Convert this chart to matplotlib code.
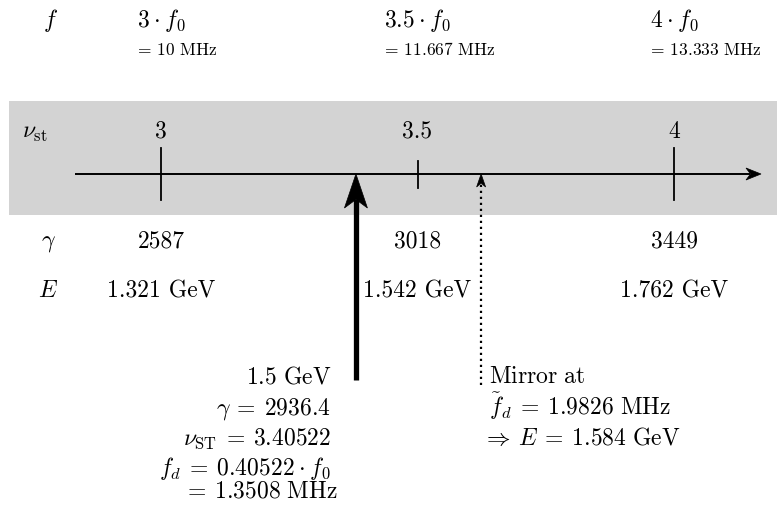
import matplotlib
matplotlib.use("Agg")
import matplotlib.pyplot as plt
from matplotlib.patches import Polygon, Rectangle
import numpy as np

plt.rcParams['mathtext.fontset'] = 'cm'
plt.rcParams['font.family'] = ['cmr10', 'DejaVu Serif']

# ---- data ----
nu_ticks = [3.0, 3.5, 4.0]
nu_tick_labels = ['3', '3.5', '4']
f_labels = [r'$3\:\cdot\: f_0$', r'$3.5\:\cdot\: f_0$', r'$4\:\cdot\: f_0$']
f_values = [r'$=\:10\ \mathrm{MHz}$', r'$=\:11.667\ \mathrm{MHz}$', r'$=\:13.333\ \mathrm{MHz}$']
gamma_values = ['2587', '3018', '3449']
energy_values = ['1.321 GeV', '1.542 GeV', '1.762 GeV']
beam_nu = 3.38          # position of the 1.5 GeV arrow as drawn
mirror_nu = 3.624       # position of the mirror arrow as drawn
beam_text = [r'$1.5\ \mathrm{GeV}$', r'$\gamma\:=\:2936.4$', r'$\nu_{\mathrm{ST}}\:=\:3.40522$',
             r'$f_d\:=\:0.40522\:\cdot\: f_0$', r'$=\:1.3508\ \mathrm{MHz}$']
mirror_text = [r'$\mathrm{Mirror\ at}$', r'$\tilde{f}_d\:=\:1.9826\ \mathrm{MHz}$',
               r'$\Rightarrow\:E\:=\:1.584\ \mathrm{GeV}$']

W, H = 777, 507
fig = plt.figure(figsize=(W / 100, H / 100), dpi=100)
ax = fig.add_axes([0, 0, 1, 1])
PX = 513.0  # pixels per unit nu
X0 = 3.0 - 161 / PX
ax.set_xlim(X0, X0 + W / PX)
ax.set_ylim(H, 0)
ax.axis('off')

def px(x):
    return X0 + x / PX

FS = 17
FSS = 12.5

# grey band
ax.add_patch(Rectangle((px(9), 101), px(777) - px(9), 114, facecolor='#d3d3d3',
                       edgecolor='none', zorder=0))

def stealth(x_tip, y_tip, L, Wd, inset, direction, **kw):
    # build in display pixel coordinates
    tx, ty = ax.transData.transform((x_tip, y_tip))
    if direction == 'up':
        pts = [(tx, ty), (tx - Wd / 2, ty - L), (tx, ty - L * (1 - inset)), (tx + Wd / 2, ty - L)]
    else:  # right
        pts = [(tx, ty), (tx - L, ty + Wd / 2), (tx - L * (1 - inset), ty), (tx - L, ty - Wd / 2)]
    ax.add_patch(Polygon(pts, closed=True, transform=None, **kw))

AXY = 174
# axis line
ax.plot([px(75), px(750)], [AXY, AXY], color='black', lw=1.4, solid_capstyle='butt', zorder=2)
stealth(px(761), AXY, 15, 12, 0.3, 'right', facecolor='black', edgecolor='black', lw=0.5, zorder=3)

# ticks
for v in nu_ticks:
    half = 13.5 if v == 3.5 else 26
    ax.plot([v, v], [AXY - half, AXY + half], color='black', lw=1.3, zorder=2)

# labels
ax.text(px(50), 27, r'$f$', fontsize=FS, ha='center', va='baseline')
for i, v in enumerate(nu_ticks):
    left = [137, 384, 650][i]
    ax.text(px(left), 27, f_labels[i], fontsize=FS, ha='left', va='baseline')
    ax.text(px(left - 3), 55, f_values[i], fontsize=FSS, ha='left', va='baseline')
    ax.text(v, 138, nu_tick_labels[i], fontsize=FS, ha='center', va='baseline')
    ax.text(v, 247, gamma_values[i], fontsize=FS, ha='center', va='baseline')
    ax.text(v, 297, energy_values[i], fontsize=FS, ha='center', va='baseline')

ax.text(px(22), 138, r'$\nu_{\mathrm{st}}$', fontsize=FS, ha='left', va='baseline')
ax.text(px(48), 247, r'$\gamma$', fontsize=FS, ha='center', va='baseline')
ax.text(px(48), 297, r'$E$', fontsize=FS, ha='center', va='baseline')

# beam arrow
ax.plot([beam_nu, beam_nu], [380, AXY + 25], color='black', lw=3.8, solid_capstyle='butt', zorder=3)
stealth(beam_nu, AXY, 34, 23, 0.25, 'up', facecolor='black', edgecolor='black', lw=0.5, zorder=4)

# mirror arrow
ax.plot([mirror_nu, mirror_nu], [385, AXY + 10], color='black', lw=1.6,
        linestyle=(0, (1, 1.7)), zorder=3)
stealth(mirror_nu, AXY, 13, 9, 0.3, 'up', facecolor='black', edgecolor='black', lw=0.5, zorder=4)

beam_y = [383, 415, 445, 475, 497]
beam_right = [331, 331, 331, 331, 337]
for t, y, r in zip(beam_text, beam_y, beam_right):
    ax.text(px(r), y, t, fontsize=FS, ha='right', va='baseline')

mirror_y = [383, 415, 445]
mirror_left = [489, 489, 482]
for t, y, l in zip(mirror_text, mirror_y, mirror_left):
    ax.text(px(l), y, t, fontsize=FS, ha='left', va='baseline')

fig.savefig('out.png', dpi=100)
